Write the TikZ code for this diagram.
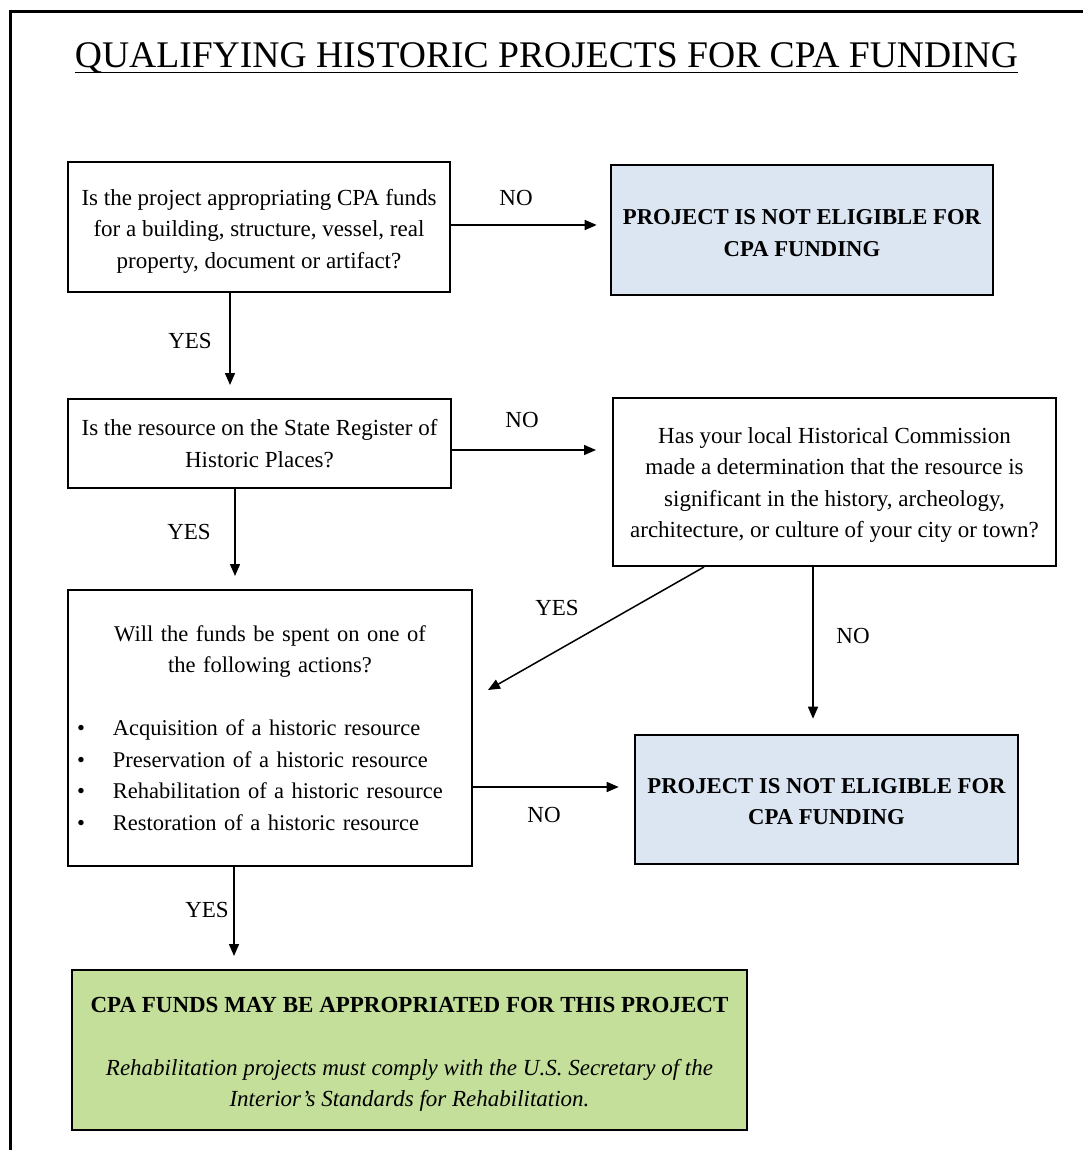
\documentclass[tikz,border=0pt]{standalone}
\usepackage{fontspec}
\setmainfont{Liberation Serif}
\usetikzlibrary{arrows.meta}

\definecolor{noblue}{HTML}{DCE6F2}
\definecolor{okgreen}{HTML}{C3DF99}
\newcommand{\itemdot}{\makebox[36pt][l]{\textbullet}}
\newcommand{\topgap}[1]{\rule{0pt}{#1}}

\begin{document}
\begin{tikzpicture}[x=1pt,y=1pt,yscale=-1,
    every node/.style={font=\fontsize{23}{31.5}\selectfont},
    qbox/.style={draw,line width=2pt,align=center,inner sep=0pt},
    nobox/.style={qbox,fill=noblue,line width=2.6pt,font=\fontsize{22.7}{31.5}\selectfont\bfseries},
    lbl/.style={inner sep=0pt},
    arr/.style={line width=1.5pt,-{Triangle[length=12pt,width=10pt]},shorten >=13pt}]
        \useasboundingbox (0,0) rectangle (1083,1150);

        %Frame
        \draw [line width=3pt]    (10.5,1150) -- (10.5,11.5) -- (1083,11.5) ;

        % Title
        \node [inner sep=0pt,anchor=base,font=\fontsize{37.6}{40}\selectfont] (title) at (546.5,68) {QUALIFYING HISTORIC PROJECTS FOR CPA FUNDING};
        \draw [line width=1.6pt]    (title.base west) ++(0,4.5) coordinate (ul) -- (ul -| title.base east) ;

        % Question boxes
        \node [qbox,minimum width=382pt,minimum height=130pt] (q1) at (259,227) {\topgap{24pt}Is the project appropriating CPA funds\\ for a building, structure, vessel, real\\ property, document or artifact?};
        \node [qbox,minimum width=383pt,minimum height=89pt] (q2) at (259.5,443.5) {Is the resource on the State Register of\\ Historic Places?};
        \node [qbox,minimum width=443pt,minimum height=168pt] (hc) at (834.5,482) {\topgap{22pt}Has your local Historical Commission\\ made a determination that the resource is\\ significant in the history, archeology,\\ architecture, or culture of your city or town?};
        \node [qbox,align=left,text width=386pt,minimum width=404pt,minimum height=276pt,font=\fontsize{22.5}{31.5}\selectfont] (acts) at (270,728) {{\centering Will the funds be spent on one of\\ the following actions?\par}
            \vspace{31.5pt}
            \itemdot Acquisition of a historic resource\\
            \itemdot Preservation of a historic resource\\
            \itemdot Rehabilitation of a historic resource\\
            \itemdot Restoration of a historic resource};

        % Result boxes
        \node [nobox,minimum width=382pt,minimum height=130pt] (ne1) at (802,230) {\topgap{21pt}PROJECT IS NOT ELIGIBLE FOR\\ CPA FUNDING};
        \node [nobox,minimum width=383pt,minimum height=129pt] (ne2) at (826.5,799.5) {\topgap{19pt}PROJECT IS NOT ELIGIBLE FOR\\ CPA FUNDING};
        \node [qbox,fill=okgreen,minimum width=675pt,minimum height=160pt] (fin) at (409.5,1050) {\topgap{24pt}\textbf{CPA FUNDS MAY BE APPROPRIATED FOR THIS PROJECT}\\[31.5pt]
            \itshape Rehabilitation projects must comply with the U.S. Secretary of the\\ \itshape Interior’s Standards for Rehabilitation.};

        % Connector positions
        \coordinate (r1) at (0,225);
        \coordinate (r2) at (0,450);
        \coordinate (r3) at (0,787);
        \coordinate (c1) at (230,0);
        \coordinate (c2) at (235,0);
        \coordinate (c3) at (813,0);
        \coordinate (c4) at (234,0);
        \coordinate (dg) at (704,0);
        \coordinate (dgEnd) at (488,690);

        %Straight Lines
        \draw [arr]    (q1.east |- r1) -- (ne1.west |- r1) ;
        \draw [arr]    (c1 |- q1.south) -- (c1 |- q2.north) ;
        \draw [arr,shorten >=16pt]    (q2.east |- r2) -- (hc.west |- r2) ;
        \draw [arr]    (c2 |- q2.south) -- (c2 |- acts.north) ;
        \draw [arr,shorten >=0pt]    (dg |- hc.south) -- (dgEnd) ;
        \draw [arr,shorten >=15pt]    (c3 |- hc.south) -- (c3 |- ne2.north) ;
        \draw [arr,shorten >=15pt]    (acts.east |- r3) -- (ne2.west |- r3) ;
        \draw [arr]    (c4 |- acts.south) -- (c4 |- fin.north) ;

        % Text Node
        \node [lbl] (no1) at (516,198) {NO};
        \node [lbl] (yes1) at (190,341) {YES};
        \node [lbl] (no2) at (522,420) {NO};
        \node [lbl] (yes2) at (189,532) {YES};
        \node [lbl] (yes3) at (557,608) {YES};
        \node [lbl] (no3) at (853,636) {NO};
        \node [lbl] (no4) at (544,815) {NO};
        \node [lbl] (yes4) at (207,910) {YES};

    \end{tikzpicture}
\end{document}
